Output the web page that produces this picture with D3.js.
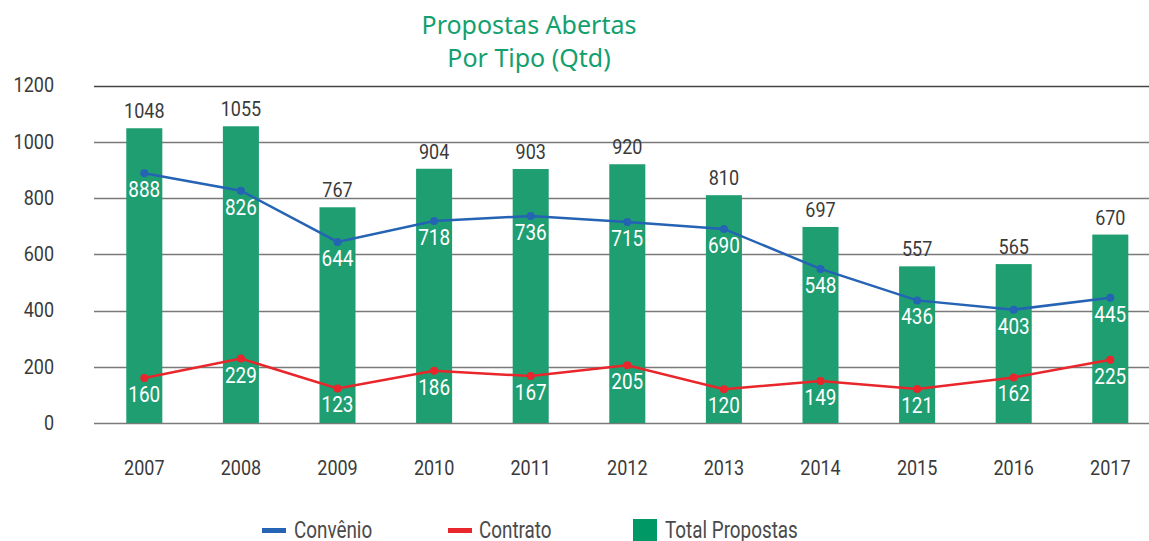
<!DOCTYPE html>
<html>
<head>
<meta charset="utf-8">
<script src="https://cdn.jsdelivr.net/npm/d3@7"></script>
<style>
  body { margin: 0; background: #fff; }
  text { font-family: "Roboto", sans-serif; }
</style>
</head>
<body>
<div id="chart"></div>
<script>
// data
var years = ["2007", "2008", "2009", "2010", "2011", "2012", "2013", "2014", "2015", "2016", "2017"];
var totalPropostas = [1048, 1055, 767, 904, 903, 920, 810, 697, 557, 565, 670];
var convenio = [888, 826, 644, 718, 736, 715, 690, 548, 436, 403, 445];
var contrato = [160, 229, 123, 186, 167, 205, 120, 149, 121, 162, 225];
var yTicks = [0, 200, 400, 600, 800, 1000, 1200];

var svgWidth = 1149;
var svgHeight = 541;

var svg = d3.select("#chart")
  .append("svg")
  .attr("width", svgWidth)
  .attr("height", svgHeight);

var xScale = d3.scaleBand()
  .domain(years)
  .range([96, 1158.6])
  .paddingInner(0.627)
  .paddingOuter(0.3135);

var yScale = d3.scaleLinear()
  .domain([0, 1200])
  .range([423, 85.5]);

// no condensed font installed, so squeeze text horizontally
function squeezed(g, x, y, sx, str) {
  return g.append("text")
    .attr("transform", `translate(${x}, ${y}) scale(${sx}, 1)`)
    .text(str);
}

// title
var title = svg.append("text")
  .attr("x", 529)
  .attr("text-anchor", "middle")
  .attr("fill", "#12a06e")
  .style("font-family", "'Noto Sans', sans-serif")
  .style("font-size", "25px");
title.append("tspan").attr("x", 529).attr("y", 34).text("Propostas Abertas");
title.append("tspan").attr("x", 529).attr("y", 67).text("Por Tipo (Qtd)");

// grid lines
svg.append("g")
  .selectAll("line")
  .data(yTicks)
  .enter()
  .append("line")
  .attr("x1", 94)
  .attr("x2", svgWidth)
  .attr("y1", d => Math.round(yScale(d)) + 0.5)
  .attr("y2", d => Math.round(yScale(d)) + 0.5)
  .attr("stroke", d => d === 1200 ? "#444" : "#7a7a7a")
  .attr("stroke-width", 1.5);

// y axis labels
var yAxis = d3.axisLeft(yScale).tickValues(yTicks).tickFormat(d3.format("d")).tickSize(0).tickPadding(0);
var yAxisG = svg.append("g")
  .attr("transform", "translate(54, 0)")
  .call(yAxis);
yAxisG.select(".domain").remove();
yAxisG.selectAll("text")
  .attr("fill", "#3a3a3a")
  .attr("transform", "scale(0.9, 1)")
  .style("font-family", "Roboto, sans-serif")
  .style("font-size", "20px");

// x axis labels
var xAxis = d3.axisBottom(xScale).tickSize(0).tickPadding(0);
var xAxisG = svg.append("g")
  .attr("transform", "translate(0, 461)")
  .call(xAxis);
xAxisG.select(".domain").remove();
xAxisG.selectAll("text")
  .attr("fill", "#3a3a3a")
  .attr("transform", "scale(0.9, 1)")
  .style("font-family", "Roboto, sans-serif")
  .style("font-size", "20px");

// bars
svg.append("g")
  .selectAll("rect")
  .data(totalPropostas)
  .enter()
  .append("rect")
  .attr("x", (d, i) => xScale(years[i]))
  .attr("y", d => yScale(d))
  .attr("width", xScale.bandwidth())
  .attr("height", d => yScale(0) - yScale(d))
  .attr("fill", "#1f9e72");

// total labels
var totalG = svg.append("g")
  .attr("text-anchor", "middle")
  .attr("fill", "#3a3a3a")
  .style("font-size", "20px");
totalPropostas.forEach(function(d, i) {
  squeezed(totalG, xScale(years[i]) + xScale.bandwidth() / 2, yScale(d) - 10, 0.9, d);
});

function drawSeries(values, color) {
  var line = d3.line()
    .x((d, i) => xScale(years[i]) + xScale.bandwidth() / 2)
    .y(d => yScale(d));

  svg.append("path")
    .datum(values)
    .attr("d", line)
    .attr("fill", "none")
    .attr("stroke", color)
    .attr("stroke-width", 2.5);

  svg.append("g")
    .selectAll("circle")
    .data(values)
    .enter()
    .append("circle")
    .attr("cx", (d, i) => xScale(years[i]) + xScale.bandwidth() / 2)
    .attr("cy", d => yScale(d))
    .attr("r", 4)
    .attr("fill", color);

  var labelG = svg.append("g")
    .attr("text-anchor", "middle")
    .attr("fill", "#fff")
    .style("font-size", "22px");
  values.forEach(function(d, i) {
    squeezed(labelG, xScale(years[i]) + xScale.bandwidth() / 2, yScale(d) + 24, 0.86, d);
  });
}

drawSeries(convenio, "#2563b4");
drawSeries(contrato, "#e8262b");

// legend
var legend = svg.append("g")
  .attr("fill", "#4a4a4a")
  .style("font-size", "23px");
legend.append("line")
  .attr("x1", 262).attr("x2", 286)
  .attr("y1", 530.5).attr("y2", 530.5)
  .attr("stroke", "#2563b4").attr("stroke-width", 5);
squeezed(legend, 294, 538, 0.82, "Convênio");
legend.append("line")
  .attr("x1", 448).attr("x2", 472)
  .attr("y1", 530.5).attr("y2", 530.5)
  .attr("stroke", "#e8262b").attr("stroke-width", 5);
squeezed(legend, 479, 538, 0.82, "Contrato");
legend.append("rect")
  .attr("x", 633).attr("y", 519)
  .attr("width", 24).attr("height", 22)
  .attr("fill", "#009966");
squeezed(legend, 665, 538, 0.82, "Total Propostas");
</script>
</body>
</html>
